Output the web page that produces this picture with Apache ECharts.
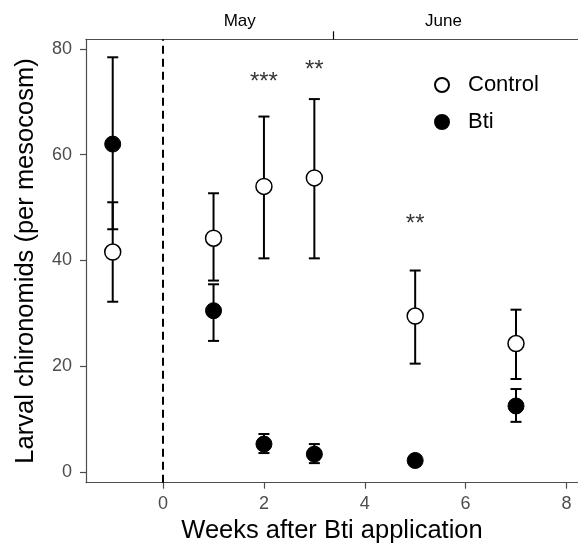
<!DOCTYPE html>
<html><head><meta charset="utf-8">
<script src="https://cdn.jsdelivr.net/npm/echarts@6/dist/echarts.min.js"></script>
<style>html,body{margin:0;padding:0;background:#fff}#c{width:578px;height:543px}</style>
</head><body><div id="c"></div>
<script>
const weeks = [-1, 1, 2, 3, 5, 7];
const controlMean = [41.6, 44.2, 54.0, 55.6, 29.5, 24.3];
const controlLow  = [32.2, 36.2, 40.4, 40.4, 20.5, 17.6];
const controlHigh = [51.0, 52.7, 67.2, 70.5, 38.1, 30.7];
const btiMean = [62.0, 30.5, 5.3, 3.4, 2.2, 12.5];
const btiLow  = [45.9, 24.8, 3.6, 1.7, 2.0, 9.5];
const btiHigh = [78.4, 35.5, 7.2, 5.3, 2.4, 15.7];
const sigWeeks = [2, 3, 5];
const sigY = [73.6, 75.9, 46.9];
const sigLabels = ['***', '**', '**'];
const xTicks = [0, 2, 4, 6, 8];
const yTicks = [0, 20, 40, 60, 80];
const months = ['May', 'June'];
const monthCenters = [1.52, 5.56];
const monthBoundary = [3.37];

const FONT = 'Liberation Sans, Arial, Helvetica, sans-serif';
const AX = '#4d4d4d';
const XMIN = -1.53, XMAX = 8.23, YMIN = -2.0, YMAX = 81.8;

function errData(lo, hi) { return weeks.map((w, i) => [w, lo[i], hi[i]]); }
function errRender(params, api) {
  const x = api.value(0), lo = api.value(1), hi = api.value(2);
  const p1 = api.coord([x, hi]), p2 = api.coord([x, lo]);
  const w = 5.5, st = { stroke: '#000', lineWidth: 2 };
  return { type: 'group', children: [
    { type: 'line', shape: { x1: p1[0], y1: p1[1], x2: p2[0], y2: p2[1] }, style: st },
    { type: 'line', shape: { x1: p1[0] - w, y1: p1[1], x2: p1[0] + w, y2: p1[1] }, style: st },
    { type: 'line', shape: { x1: p2[0] - w, y1: p2[1], x2: p2[0] + w, y2: p2[1] }, style: st }
  ]};
}

const chart = echarts.init(document.getElementById('c'), null, { renderer: 'canvas' });
chart.setOption({
  animation: false,
  backgroundColor: '#fff',
  textStyle: { fontFamily: FONT },
  grid: { left: 86, right: 0, top: 39.3, bottom: 60.3, containLabel: false, outerBoundsMode: 'none' },
  legend: {
    data: ['Control', 'Bti'], orient: 'vertical', left: 429, top: 69,
    itemWidth: 14, itemHeight: 14, itemGap: 15,
    textStyle: { fontSize: 22, color: '#000', fontFamily: FONT, padding: [0, 0, 0, 14] }
  },
  xAxis: [{
    type: 'value', min: XMIN, max: XMAX, position: 'bottom',
    name: 'Weeks after Bti application', nameLocation: 'middle', nameGap: 32,
    nameTextStyle: { fontSize: 25.5, color: '#000', fontFamily: FONT },
    axisLine: { show: true, onZero: false, lineStyle: { color: AX, width: 1.2 } },
    axisTick: { show: true, customValues: xTicks, length: 6, lineStyle: { color: AX, width: 1.2 } },
    axisLabel: { show: true, customValues: xTicks, color: AX, fontSize: 18, margin: 12, fontFamily: FONT },
    splitLine: { show: false }
  }, {
    type: 'value', min: XMIN, max: XMAX, position: 'top',
    axisLine: { show: true, onZero: false, lineStyle: { color: AX, width: 1.2 } },
    axisTick: { show: true, customValues: monthBoundary, length: 8, lineStyle: { color: '#000', width: 1.2 } },
    axisLabel: { show: true, customValues: monthCenters, color: '#000', fontSize: 17, margin: 9, fontFamily: FONT,
      formatter: v => { const i = monthCenters.findIndex(c => Math.abs(c - v) < 1e-6); return i >= 0 ? months[i] : ''; } },
    splitLine: { show: false }
  }],
  yAxis: {
    type: 'value', min: YMIN, max: YMAX,
    name: 'Larval chironomids (per mesocosm)', nameLocation: 'middle', nameGap: 47,
    nameTextStyle: { fontSize: 25.5, color: '#000', fontFamily: FONT },
    axisLine: { show: true, onZero: false, lineStyle: { color: AX, width: 1.2 } },
    axisTick: { show: true, customValues: yTicks, length: 6, lineStyle: { color: AX, width: 1.2 } },
    axisLabel: { show: true, customValues: yTicks, color: AX, fontSize: 18, margin: 14, fontFamily: FONT },
    splitLine: { show: false }
  },
  series: [
    { name: 'ctrlErr', type: 'custom', renderItem: errRender, data: errData(controlLow, controlHigh), z: 2, silent: true,
      markLine: { silent: true, symbol: 'none', label: { show: false },
        lineStyle: { color: '#000', width: 2, type: [8, 5] }, data: [{ xAxis: 0 }] } },
    { name: 'btiErr', type: 'custom', renderItem: errRender, data: errData(btiLow, btiHigh), z: 2, silent: true },
    { name: 'Control', type: 'scatter', data: weeks.map((w, i) => [w, controlMean[i]]), symbol: 'circle', symbolSize: 16,
      itemStyle: { color: '#fff', borderColor: '#000', borderWidth: 1.5, opacity: 1 }, z: 5 },
    { name: 'Bti', type: 'scatter', data: weeks.map((w, i) => [w, btiMean[i]]), symbol: 'circle', symbolSize: 16,
      itemStyle: { color: '#000', borderColor: '#000', borderWidth: 1, opacity: 1 }, z: 6 },
    { name: 'sig', type: 'scatter', data: sigWeeks.map((w, i) => [w, sigY[i]]), symbolSize: 1,
      itemStyle: { color: 'rgba(0,0,0,0)' }, silent: true, z: 7,
      label: { show: true, position: 'inside', color: '#000', fontSize: 24, fontFamily: FONT,
        formatter: p => sigLabels[p.dataIndex] } }
  ]
});
</script></body></html>
